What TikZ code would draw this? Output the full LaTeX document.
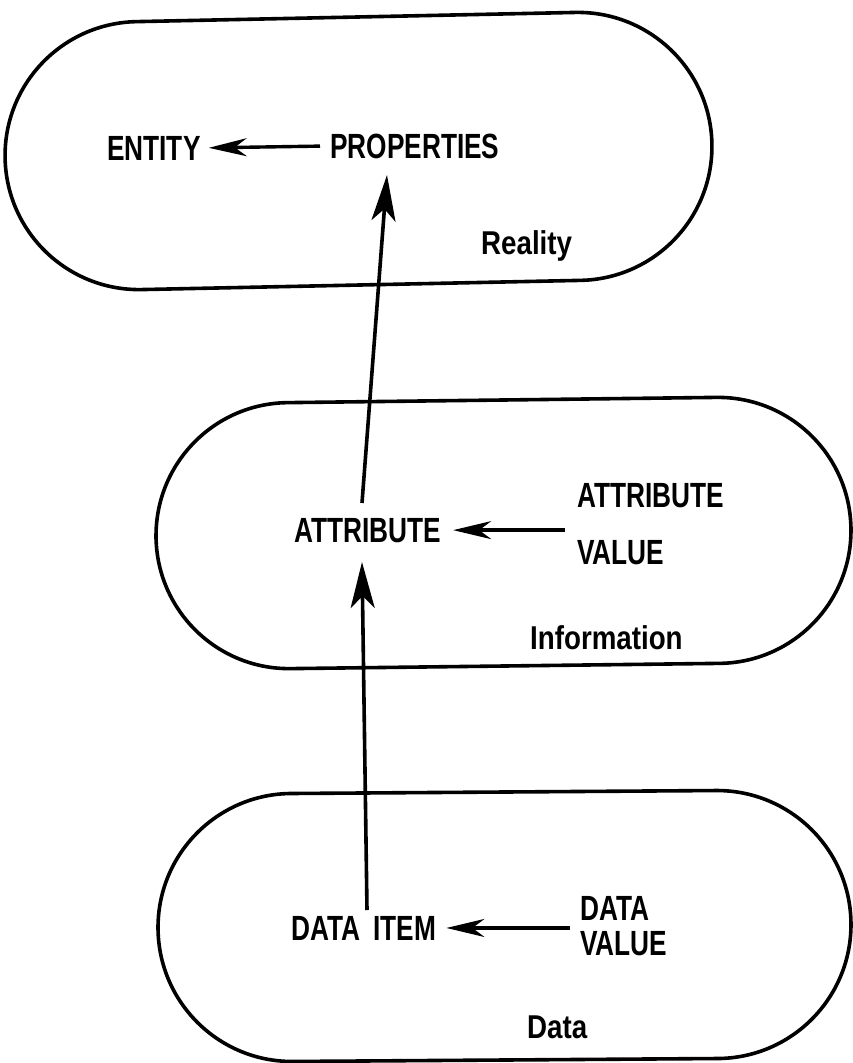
\documentclass[tikz,border=0pt]{standalone}
\usepackage{fontspec}
\usetikzlibrary{arrows.meta}
\newfontfamily\capsfont[FakeStretch=0.75]{Liberation Sans}
\newfontfamily\labfont[FakeStretch=0.84]{Liberation Sans}
\begin{document}
\begin{tikzpicture}[x=1pt,y=-1pt,
  stadium/.style={line width=3.6pt},
  captext/.style={inner sep=0pt, anchor=base west, font=\capsfont\bfseries\fontsize{35}{38}\selectfont},
  labtext/.style={inner sep=0pt, anchor=base west, font=\labfont\bfseries\fontsize{33}{36}\selectfont},
  harrow/.style={line width=3.4pt, -{Stealth[length=38pt,width=18pt,inset=12pt]}},
  varrow/.style={line width=3.6pt, -{Stealth[length=46pt,width=24pt,inset=12pt]}}]
\useasboundingbox[fill=white] (0,0) rectangle (852,1063);

% stadiums
\draw[stadium, rounded corners=134pt, rotate around={1.2:(358.5,151)}] (5,17) rectangle (712,285);
\draw[stadium, rounded corners=133pt, rotate around={0.7:(503.5,533)}] (156,400) rectangle (851,666);
\draw[stadium, rounded corners=134pt, rotate around={0.4:(504.5,926)}] (158,792) rectangle (851,1060);

% Reality
\node[captext] (ent) at (107,160) {ENTITY};
\node[captext] (prop) at (330,158) {PROPERTIES};
\node[labtext] (real) at (481,254) {Reality};

% Information
\node[captext] (attr) at (294,542) {ATTRIBUTE};
\node[captext] (av1) at (577,507) {ATTRIBUTE};
\node[captext] (av2) at (577,564) {VALUE};
\node[labtext] (info) at (530,649) {Information};

% Data
\node[captext] (ditem) at (291,940) {DATA\hspace{6pt} ITEM};
\node[captext] (dv1) at (580,920) {DATA};
\node[captext] (dv2) at (580,955) {VALUE};
\node[labtext] (dat) at (527,1038) {Data};

\coordinate (tipP) at (387,175);
\coordinate (tailP) at (362,503);
\coordinate (tipA) at (362,562);
\coordinate (tailA) at (367,910);

% horizontal arrows
\draw[harrow, shorten >=8pt, shorten <=10pt] (prop.west) -- (ent.east);
\draw[harrow, shorten >=12pt, shorten <=12pt] (av1.south west |- attr.west) -- (attr.east);
\draw[harrow, shorten >=10pt, shorten <=10pt] (dv1.west |- ditem.west) -- (ditem.east);

% vertical arrows
\draw[varrow] (tailP) -- (tipP);
\draw[varrow] (tailA) -- (tipA);
\end{tikzpicture}
\end{document}
